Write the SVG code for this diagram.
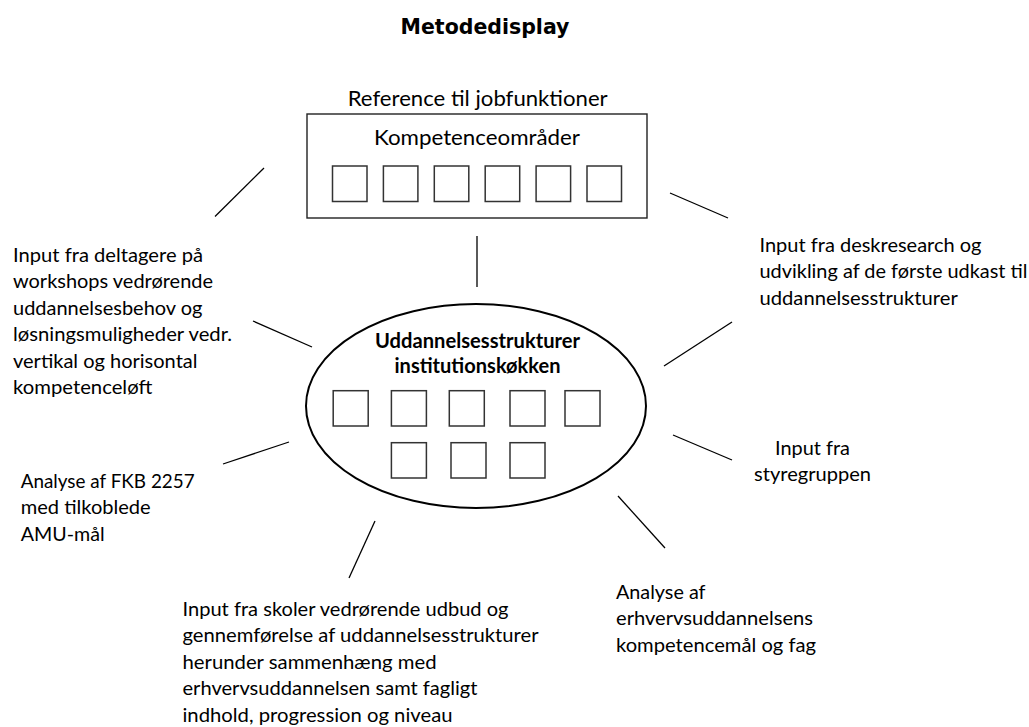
<svg xmlns="http://www.w3.org/2000/svg" width="1029" height="727" viewBox="0 0 1029 727">
<style>
  .t { font-family: Lato, "Liberation Sans", sans-serif; font-size: 20px; fill: #000; }
  .big { font-family: Lato, "Liberation Sans", sans-serif; font-size: 22px; fill: #000; }
  .b { font-family: Lato, "Liberation Sans", sans-serif; font-size: 20px; font-weight: bold; fill: #000; }
  .title { font-family: "DejaVu Sans", Verdana, sans-serif; font-size: 20.5px; font-weight: bold; fill: #000; }
  .sq { fill: #fff; stroke: #333; stroke-width: 1.5; }
  .ln { stroke: #000; stroke-width: 1.3; fill: none; }
</style>
<rect width="1029" height="727" fill="#fff"/>
<text class="title" x="485" y="34" text-anchor="middle">Metodedisplay</text>

<g id="kompetence">
  <text class="big" x="347.7" y="106" textLength="260" lengthAdjust="spacingAndGlyphs">Reference til jobfunktioner</text>
  <rect x="307" y="114" width="340" height="104" fill="#fff" stroke="#222" stroke-width="1.4"/>
  <text class="big" x="374" y="145" textLength="206" lengthAdjust="spacingAndGlyphs">Kompetenceområder</text>
  <rect class="sq" x="332.5" y="166" width="34.5" height="35.5"/>
  <rect class="sq" x="383.4" y="166" width="34.5" height="35.5"/>
  <rect class="sq" x="434.3" y="166" width="34.5" height="35.5"/>
  <rect class="sq" x="485.2" y="166" width="34.5" height="35.5"/>
  <rect class="sq" x="536.1" y="166" width="34.5" height="35.5"/>
  <rect class="sq" x="587" y="166" width="34.5" height="35.5"/>
</g>

<g id="uddannelse">
  <ellipse cx="476" cy="406" rx="170" ry="102" fill="#fff" stroke="#000" stroke-width="2"/>
  <text class="b" x="375" y="348" textLength="205" lengthAdjust="spacingAndGlyphs">Uddannelsesstrukturer</text>
  <text class="b" x="394.5" y="373" textLength="166" lengthAdjust="spacingAndGlyphs">institutionskøkken</text>
  <rect class="sq" x="333.2" y="390.7" width="35" height="35.3"/>
  <rect class="sq" x="391.4" y="390.7" width="35" height="35.3"/>
  <rect class="sq" x="449.3" y="390.7" width="35" height="35.3"/>
  <rect class="sq" x="510" y="390.7" width="35" height="35.3"/>
  <rect class="sq" x="565" y="390.7" width="35" height="35.3"/>
  <rect class="sq" x="391.4" y="442.7" width="35" height="35.3"/>
  <rect class="sq" x="451" y="442.7" width="35" height="35.3"/>
  <rect class="sq" x="510" y="442.7" width="35" height="35.3"/>
</g>

<g id="workshops">
  <text class="t" x="13" y="262" textLength="190" lengthAdjust="spacingAndGlyphs">Input fra deltagere på</text>
  <text class="t" x="13" y="288.4" textLength="200" lengthAdjust="spacingAndGlyphs">workshops vedrørende</text>
  <text class="t" x="13" y="314.8" textLength="189.5" lengthAdjust="spacingAndGlyphs">uddannelsesbehov og</text>
  <text class="t" x="13" y="341.2" textLength="219" lengthAdjust="spacingAndGlyphs">løsningsmuligheder vedr.</text>
  <text class="t" x="13" y="367.6" textLength="184.5" lengthAdjust="spacingAndGlyphs">vertikal og horisontal</text>
  <text class="t" x="13" y="394" textLength="139.3" lengthAdjust="spacingAndGlyphs">kompetenceløft</text>
</g>

<g id="fkb">
  <text class="t" x="20.7" y="488" textLength="174" lengthAdjust="spacingAndGlyphs">Analyse af FKB 2257</text>
  <text class="t" x="20.7" y="514.4" textLength="130" lengthAdjust="spacingAndGlyphs">med tilkoblede</text>
  <text class="t" x="20.7" y="540.8" textLength="83.9" lengthAdjust="spacingAndGlyphs">AMU-mål</text>
</g>

<g id="deskresearch">
  <text class="t" x="759.5" y="252" textLength="222" lengthAdjust="spacingAndGlyphs">Input fra deskresearch og</text>
  <text class="t" x="759.5" y="278.4" textLength="268" lengthAdjust="spacingAndGlyphs">udvikling af de første udkast til</text>
  <text class="t" x="759.5" y="304.8" textLength="198.3" lengthAdjust="spacingAndGlyphs">uddannelsesstrukturer</text>
</g>

<g id="styregruppen">
  <text class="t" x="812.5" y="455" text-anchor="middle" textLength="75" lengthAdjust="spacingAndGlyphs">Input fra</text>
  <text class="t" x="812.5" y="481" text-anchor="middle" textLength="117" lengthAdjust="spacingAndGlyphs">styregruppen</text>
</g>

<g id="erhvervsuddannelse">
  <text class="t" x="616" y="599" textLength="89.5" lengthAdjust="spacingAndGlyphs">Analyse af</text>
  <text class="t" x="616" y="625.4" textLength="197" lengthAdjust="spacingAndGlyphs">erhvervsuddannelsens</text>
  <text class="t" x="616" y="651.8" textLength="200" lengthAdjust="spacingAndGlyphs">kompetencemål og fag</text>
</g>

<g id="skoler">
  <text class="t" x="182.5" y="616" textLength="326" lengthAdjust="spacingAndGlyphs">Input fra skoler vedrørende udbud og</text>
  <text class="t" x="182.5" y="642.4" textLength="356" lengthAdjust="spacingAndGlyphs">gennemførelse af uddannelsesstrukturer</text>
  <text class="t" x="182.5" y="668.8" textLength="254" lengthAdjust="spacingAndGlyphs">herunder sammenhæng med</text>
  <text class="t" x="182.5" y="695.2" textLength="295" lengthAdjust="spacingAndGlyphs">erhvervsuddannelsen samt fagligt</text>
  <text class="t" x="182.5" y="721.6" textLength="270" lengthAdjust="spacingAndGlyphs">indhold, progression og niveau</text>
</g>

<g id="connectors">
  <line class="ln" x1="264" y1="168" x2="215" y2="216.5"/>
  <line class="ln" x1="670" y1="193" x2="728" y2="218"/>
  <line class="ln" x1="477" y1="236" x2="477" y2="287"/>
  <line class="ln" x1="253" y1="321" x2="312" y2="347"/>
  <line class="ln" x1="732" y1="322" x2="664" y2="366"/>
  <line class="ln" x1="223" y1="464" x2="289" y2="442"/>
  <line class="ln" x1="673" y1="435" x2="732" y2="460"/>
  <line class="ln" x1="618" y1="496" x2="665" y2="548"/>
  <line class="ln" x1="375" y1="521" x2="349" y2="578"/>
</g>
</svg>
